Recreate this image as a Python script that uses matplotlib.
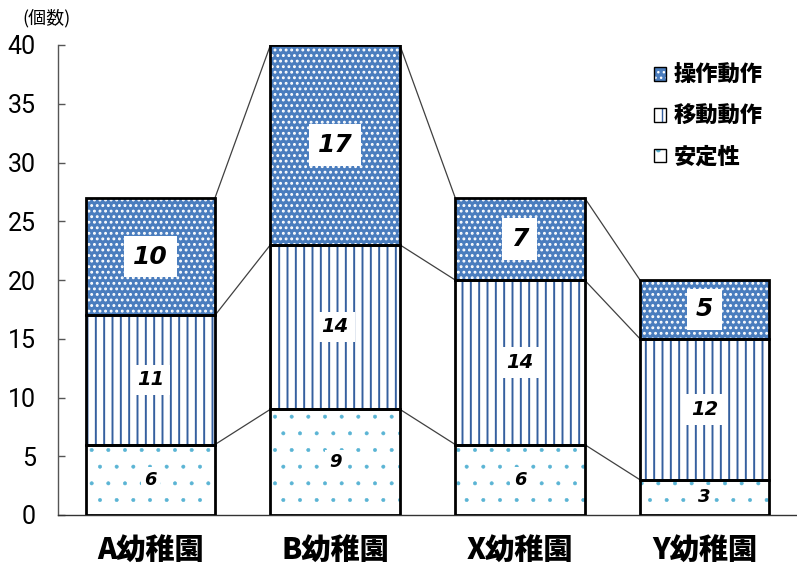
import numpy as np
import matplotlib.pyplot as plt
from matplotlib.patches import Patch
from matplotlib.legend_handler import HandlerTuple

plt.rcParams['font.family'] = ['Noto Sans CJK JP', 'DejaVu Sans']

# Data
categories = ['A幼稚園', 'B幼稚園', 'X幼稚園', 'Y幼稚園']
stability = [6, 9, 6, 3]        # 安定性
locomotion = [11, 14, 14, 12]   # 移動動作
manipulation = [10, 17, 7, 5]   # 操作動作
series_names = ['安定性', '移動動作', '操作動作']
yticks = [0, 5, 10, 15, 20, 25, 30, 35, 40]

series = [stability, locomotion, manipulation]
styles = [
    dict(face='white', hatch='.', hcolor='#5ab4d4', hlw=0.4),
    dict(face='white', hatch='||', hcolor='#35609f', hlw=1.4),
    dict(face='#4a7dbe', hatch='...', hcolor='white', hlw=1.3),
]
label_sizes = [13, 14, 18]
label_pads = [0.2, 0.3, 0.35]

fig = plt.figure(figsize=(7.97, 5.73), dpi=100)
ax = fig.add_axes([58 / 797, 1 - 515 / 573, 739 / 797, 470 / 573])

x = np.arange(len(categories))
width = 0.70
bottom = np.zeros(len(categories))
tops = []
handles = []
num_font = ['DejaVu Sans']

for vals, st, fs, pad in zip(series, styles, label_sizes, label_pads):
    vals = np.array(vals, dtype=float)
    with plt.rc_context({'hatch.linewidth': st['hlw']}):
        ax.bar(x, vals, width, bottom=bottom, color=st['face'],
               edgecolor=st['hcolor'], hatch=st['hatch'], linewidth=0,
               zorder=2)
    ax.bar(x, vals, width, bottom=bottom, facecolor='none',
           edgecolor='black', linewidth=2, zorder=3)
    for xi, b, v in zip(x, bottom, vals):
        ax.text(xi, b + v / 2, f'{int(v)}', ha='center', va='center',
                fontsize=fs, fontweight='bold', fontstyle='italic',
                family=num_font, zorder=4,
                bbox=dict(boxstyle=f'square,pad={pad}', facecolor='white',
                          edgecolor='none'))
    with plt.rc_context({'hatch.linewidth': st['hlw'] * 0.6}):
        h_fill = Patch(facecolor=st['face'], edgecolor=st['hcolor'],
                       hatch=st['hatch'], linewidth=0)
    h_edge = Patch(facecolor='none', edgecolor='black', linewidth=1)
    handles.append((h_fill, h_edge))
    bottom = bottom + vals
    tops.append(bottom.copy())

# Series lines joining the stacked levels between neighbouring bars
for level in tops:
    for i in range(len(categories) - 1):
        ax.plot([x[i] + width / 2, x[i + 1] - width / 2],
                [level[i], level[i + 1]], color='#404040', lw=0.9, zorder=1)

ax.set_xlim(-0.5, len(categories) - 0.5)
ax.set_ylim(0, 40)
ax.set_yticks(yticks)
ax.set_xticks(x)
ax.set_xticklabels(categories, fontsize=21, fontweight='black')
ax.tick_params(axis='x', length=0, pad=15)
ax.tick_params(axis='y', direction='in', length=5, width=1, color='#555555',
               labelsize=18, pad=16)
for lab in ax.get_yticklabels():
    lab.set_family(['Roboto', 'DejaVu Sans'])

for s in ['top', 'right']:
    ax.spines[s].set_visible(False)
ax.spines['left'].set_color('#555555')
ax.spines['left'].set_linewidth(1)
ax.spines['bottom'].set_color('#333333')
ax.spines['bottom'].set_linewidth(1)

fig.text(22 / 797, 1 - 18 / 573, '(個数)', fontsize=13, ha='left', va='center')

leg = ax.legend(handles[::-1], series_names[::-1],
                handler_map={tuple: HandlerTuple(ndivide=1, pad=0)},
                loc='upper left', bbox_to_anchor=(654 / 797, 1 - 64 / 573),
                bbox_transform=fig.transFigure, frameon=False,
                prop=dict(size=16, weight='black'), handlelength=0.55,
                handleheight=0.55, handletextpad=0.35, labelspacing=0.8,
                borderpad=0, borderaxespad=0)

fig.savefig('out.png', dpi=100)
